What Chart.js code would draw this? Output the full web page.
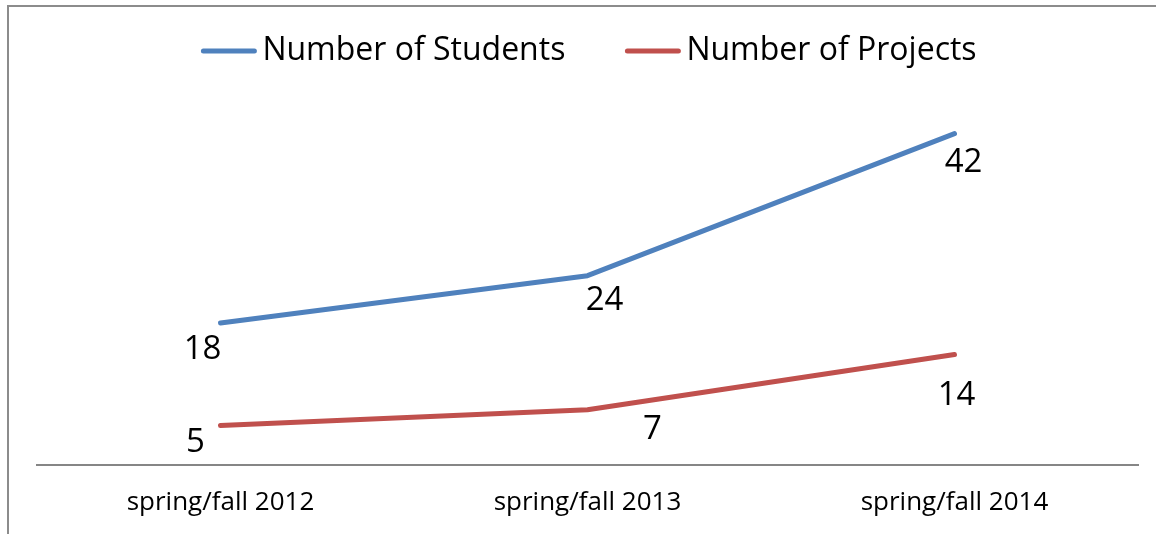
<!DOCTYPE html>
<html>
<head>
<meta charset="utf-8">
<script src="https://cdn.jsdelivr.net/npm/chart.js@4/dist/chart.umd.min.js"></script>
<style>
  html, body { margin: 0; padding: 0; background: #fff; }
  #wrap { position: relative; width: 1156px; height: 534px; }
  #frame { position: absolute; left: 7px; top: 5px; width: 1160px; height: 540px; border: 2px solid #8c8c8c; box-sizing: border-box; }
  canvas { position: absolute; left: 0; top: 0; }
</style>
</head>
<body>
<div id="wrap">
  <div id="frame"></div>
  <canvas id="line-chart" width="1156" height="534"></canvas>
</div>
<script>
const categories = ['spring/fall 2012', 'spring/fall 2013', 'spring/fall 2014'];
const students = [18, 24, 42];
const projects = [5, 7, 14];
const seriesNames = ['Number of Students', 'Number of Projects'];

const blue = '#4f81bd';
const red = '#c0504d';
const font = '"Open Sans", "Noto Sans", sans-serif';

// where each value label sits relative to its point (Excel put them by hand)
const labelOffsets = [
  [[-18, 27], [17, 25], [9, 29]],
  [[-25, 17], [65, 20], [2, 41]]
];

// legend drawn by hand so the line marker sits close to the text
const legendPlugin = {
  id: 'excelLegend',
  afterDraw(chart) {
    const ctx = chart.ctx;
    ctx.save();
    ctx.font = '32px ' + font;
    ctx.textBaseline = 'middle';
    const marker = 55, gap = 6, itemGap = 60;
    const widths = chart.data.datasets.map(ds => marker + gap + ctx.measureText(ds.label).width);
    const total = widths.reduce((a, b) => a + b, 0) + itemGap * (widths.length - 1);
    let x = (chart.width - total) / 2 + 11;
    const y = 51;
    chart.data.datasets.forEach((ds, i) => {
      ctx.strokeStyle = ds.borderColor;
      ctx.lineWidth = 5;
      ctx.lineCap = 'round';
      ctx.beginPath();
      ctx.moveTo(x + 2, y);
      ctx.lineTo(x + marker - 2, y);
      ctx.stroke();
      ctx.fillStyle = '#000';
      ctx.fillText(ds.label, x + marker + gap, y);
      x += widths[i] + itemGap;
    });
    ctx.restore();
  }
};

const valueLabels = {
  id: 'valueLabels',
  afterDatasetsDraw(chart) {
    const ctx = chart.ctx;
    ctx.save();
    ctx.font = '33px ' + font;
    ctx.fillStyle = '#000';
    ctx.textAlign = 'center';
    ctx.textBaseline = 'middle';
    chart.data.datasets.forEach((ds, i) => {
      chart.getDatasetMeta(i).data.forEach((pt, j) => {
        const off = labelOffsets[i][j];
        ctx.fillText(String(ds.data[j]), pt.x + off[0], pt.y + off[1]);
      });
    });
    ctx.restore();
  }
};

const ctx = document.getElementById('line-chart').getContext('2d');
const lineChart = new Chart(ctx, {
  type: 'line',
  data: {
    labels: categories,
    datasets: [
      { label: seriesNames[0], data: students, borderColor: blue, backgroundColor: blue, borderWidth: 5, pointRadius: 0, tension: 0, borderCapStyle: 'round', borderJoinStyle: 'round' },
      { label: seriesNames[1], data: projects, borderColor: red, backgroundColor: red, borderWidth: 5, pointRadius: 0, tension: 0, borderCapStyle: 'round', borderJoinStyle: 'round' }
    ]
  },
  options: {
    responsive: false,
    animation: false,
    layout: { padding: { left: 37, right: 18, top: 110, bottom: 0 } },
    plugins: { legend: { display: false }, tooltip: { enabled: false } },
    scales: {
      x: {
        offset: true,
        grid: { display: false, drawTicks: false },
        border: { display: true, color: '#868686', width: 2 },
        ticks: { color: '#000', font: { family: font, size: 26 }, padding: 22, maxRotation: 0 },
        afterFit(scale) { scale.height = 69; }
      },
      y: {
        display: false,
        min: 0,
        max: 45
      }
    }
  },
  plugins: [legendPlugin, valueLabels]
});
</script>
</body>
</html>
